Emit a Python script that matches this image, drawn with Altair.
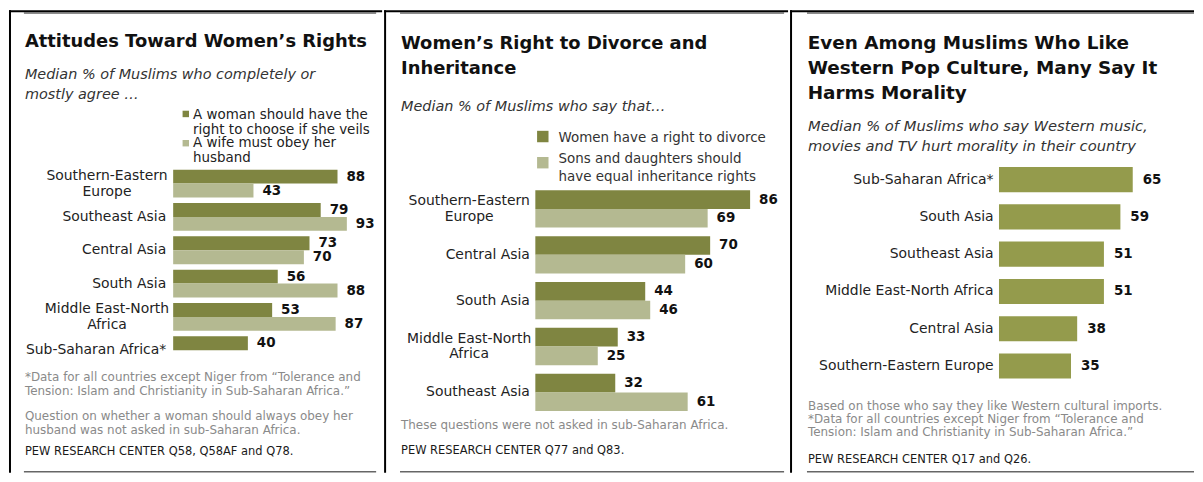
import json
import altair as alt
import pandas as pd

FONT = "DejaVu Sans"

# ---------------- data ----------------
p1_title = ["Attitudes Toward Women’s Rights"]
p1_subtitle = ["Median % of Muslims who completely or", "mostly agree …"]
p1_regions = ["Southern-Eastern Europe", "Southeast Asia", "Central Asia",
              "South Asia", "Middle East-North Africa", "Sub-Saharan Africa*"]
p1_series = ["A woman should have the right to choose if she veils",
             "A wife must obey her husband"]
p1_veil = [88, 79, 73, 56, 53, 40]
p1_obey = [43, 93, 70, 88, 87, None]
p1_note_a = ["*Data for all countries except Niger from “Tolerance and",
             "Tension: Islam and Christianity in Sub-Saharan Africa.”"]
p1_note_b = ["Question on whether a woman should always obey her",
             "husband was not asked in sub-Saharan Africa."]
p1_source = "PEW RESEARCH  CENTER Q58, Q58AF and Q78."

p2_title = ["Women’s Right to Divorce and", "Inheritance"]
p2_subtitle = ["Median % of Muslims who say that…"]
p2_regions = ["Southern-Eastern Europe", "Central Asia", "South Asia",
              "Middle East-North Africa", "Southeast Asia"]
p2_series = ["Women have a right to divorce",
             "Sons and daughters should have equal inheritance rights"]
p2_divorce = [86, 70, 44, 33, 32]
p2_inherit = [69, 60, 46, 25, 61]
p2_note = ["These questions were not asked in sub-Saharan Africa."]
p2_source = "PEW RESEARCH  CENTER Q77 and Q83."

p3_title = ["Even Among Muslims Who Like", "Western Pop Culture, Many Say It",
            "Harms Morality"]
p3_subtitle = ["Median % of Muslims who say Western music,",
               "movies and TV hurt morality in their country"]
p3_regions = ["Sub-Saharan Africa*", "South Asia", "Southeast Asia",
              "Middle East-North Africa", "Central Asia", "Southern-Eastern Europe"]
p3_values = [65, 59, 51, 51, 38, 35]
p3_note = ["Based on those who say they like Western cultural imports.",
           "*Data for all countries except Niger from “Tolerance and",
           "Tension: Islam and Christianity in Sub-Saharan Africa.”"]
p3_source = "PEW RESEARCH  CENTER Q17 and Q26."

DARK = "#7f8541"
LIGHT = "#b4b991"
SINGLE = "#949b4c"

H = 466
NOTE = 12
NOTE_C = "#8a8a8a"
SRC = 11.5
LAB = 14

# line wrapping of labels (presentation only)
legend_wrap = {
    p1_series[0]: ["A woman should have the", "right to choose if she veils"],
    p1_series[1]: ["A wife must obey her", "husband"],
    p2_series[0]: ["Women have a right to divorce"],
    p2_series[1]: ["Sons and daughters should", "have equal inheritance rights"],
}
label_wrap = {
    "Southern-Eastern Europe": ["Southern-Eastern", "Europe"],
    "Middle East-North Africa": ["Middle East-North", "Africa"],
}


def label_expr(wrap):
    expr = "datum.value"
    for k, v in wrap.items():
        expr = f"datum.value == {json.dumps(k)} ? {json.dumps(v)} : ({expr})"
    return expr


def wrapped_test(wrap):
    return " || ".join(f"datum.value == {json.dumps(k)}" for k in wrap)


def blank():
    return alt.Chart(alt.Data(values=[{}]))


def rule(x1, x2, y1, y2, color, width):
    return blank().mark_rule(color=color, strokeWidth=width).encode(
        x=alt.value(x1), x2=alt.value(x2), y=alt.value(y1), y2=alt.value(y2))


def txt(lines, x, y, size, color, weight="normal", style="normal", lh=None):
    kw = dict(align="left", baseline="alphabetic", fontSize=size, font=FONT,
              color=color, fontWeight=weight, fontStyle=style)
    if lh is not None:
        kw["lineHeight"] = lh
    return blank().mark_text(**kw).encode(x=alt.value(x), y=alt.value(y),
                                          text=alt.value(lines))


def frame(W, gx1, gx2):
    return [
        rule(0, W, 2, 2, "#000", 2),
        rule(1, 1, 1, H, "#000", 2),
        rule(gx1, gx2, 3.75, 3.75, "#666", 1.5),
        rule(gx1, gx2, 465, 465, "#666", 1.5),
    ]


def grouped_panel(regions, series, vals_a, vals_b, colors, xs, k, y0, step, pi, pad):
    rows = []
    for r, a, b in zip(regions, vals_a, vals_b):
        if a is not None:
            rows.append({"region": r, "series": series[0], "value": a})
        if b is not None:
            rows.append({"region": r, "series": series[1], "value": b})
    df = pd.DataFrame(rows)
    n = len(regions)
    y1 = y0 + step * (n - pi)
    test = wrapped_test(label_wrap)
    base = alt.Chart(df)
    x = alt.X("value:Q", scale=alt.Scale(domain=[0, 100], range=[xs, xs + 100 * k]),
              axis=None)
    y = alt.Y("region:N", sort=regions,
              scale=alt.Scale(range=[y0, y1], paddingInner=pi, paddingOuter=0),
              axis=alt.Axis(
                  title=None, orient="left", offset=-xs, ticks=False, domain=False,
                  labelFontSize=LAB, labelFont=FONT, labelColor="#222",
                  labelLineHeight=16, labelLimit=400,
                  labelExpr=label_expr(label_wrap),
                  labelAlign={"condition": {"test": test, "value": "center"},
                              "value": "right"},
                  labelPadding={"condition": {"test": test, "value": 67},
                                "value": pad},
                  labelOffset={"condition": {"test": test, "value": -8},
                               "value": 0}))
    yo = alt.YOffset("series:N", sort=series,
                     scale=alt.Scale(paddingInner=0, paddingOuter=0))
    color = alt.Color("series:N", scale=alt.Scale(domain=series, range=colors),
                      legend=None)
    bars = base.mark_bar().encode(x=x, y=y, yOffset=yo, color=color)
    labels = base.mark_text(align="left", baseline="middle", dx=9, fontSize=13.5,
                            font=FONT, fontWeight="bold", color="#111").encode(
        x=x, y=y, yOffset=yo, text="value:Q")
    return [bars, labels]


# ---------------- panel 1 ----------------
W1 = 375
p1_layers = frame(W1, 15, 369)
p1_layers += grouped_panel(p1_regions, p1_series, p1_veil, p1_obey, [DARK, LIGHT],
                           165, 1.877, 161.3, 33.5, 0.164, 7.5)
p1_layers += [
    txt(p1_title, 16, 38, 18, "#111", weight="bold"),
    txt(p1_subtitle, 16, 70, 14.5, "#333", style="italic", lh=20),
    blank().mark_square(size=42, opacity=1, color=DARK).encode(
        x=alt.value(177.7), y=alt.value(105.3)),
    blank().mark_square(size=42, opacity=1, color=LIGHT).encode(
        x=alt.value(177.7), y=alt.value(134.7)),
    txt(legend_wrap[p1_series[0]], 185, 110, 13.5, "#222", lh=15),
    txt(legend_wrap[p1_series[1]], 185, 138.7, 13.5, "#222", lh=15),
    txt(p1_note_a, 16, 373.7, NOTE, NOTE_C, lh=14),
    txt(p1_note_b, 16, 413, NOTE, NOTE_C, lh=13.5),
    txt(p1_source, 16, 448, SRC, "#1a1a1a"),
]
panel1 = alt.layer(*p1_layers).properties(width=W1, height=H)

# ---------------- panel 2 ----------------
W2 = 406
p2_layers = frame(W2, 16, 402)
p2_layers += grouped_panel(p2_regions, p2_series, p2_divorce, p2_inherit,
                           [DARK, LIGHT], 152, 2.51, 182, 46.1, 0.187, 6)
p2_layers += [
    txt(p2_title, 17, 40, 18, "#111", weight="bold", lh=25),
    txt(p2_subtitle, 17, 102.5, 14.5, "#333", style="italic", lh=20),
    blank().mark_square(size=132, opacity=1, color=DARK).encode(
        x=alt.value(159.5), y=alt.value(128)),
    blank().mark_square(size=132, opacity=1, color=LIGHT).encode(
        x=alt.value(159.5), y=alt.value(154.3)),
    txt(legend_wrap[p2_series[0]], 175.3, 133.6, 13.5, "#333", lh=18.5),
    txt(legend_wrap[p2_series[1]], 175.3, 154.6, 13.5, "#333", lh=18.5),
    txt(p2_note, 17, 422, NOTE, NOTE_C, lh=13.3),
    txt(p2_source, 17, 447, SRC, "#1a1a1a"),
]
panel2 = alt.layer(*p2_layers).properties(width=W2, height=H)

# ---------------- panel 3 ----------------
W3 = 406
df3 = pd.DataFrame({"region": p3_regions, "value": p3_values})
n3 = len(p3_regions)
pi3, step3, y03, xs3, k3 = 0.325, 37.46, 158.7, 210, 2.068
x3 = alt.X("value:Q", scale=alt.Scale(domain=[0, 100], range=[xs3, xs3 + 100 * k3]),
           axis=None)
y3 = alt.Y("region:N", sort=p3_regions,
           scale=alt.Scale(range=[y03, y03 + step3 * (n3 - pi3)], paddingInner=pi3,
                           paddingOuter=0),
           axis=alt.Axis(title=None, orient="left", offset=-xs3, labelPadding=6,
                         ticks=False, domain=False, labelFontSize=LAB,
                         labelFont=FONT, labelColor="#222", labelLimit=400))
bars3 = alt.Chart(df3).mark_bar(color=SINGLE).encode(x=x3, y=y3)
labels3 = alt.Chart(df3).mark_text(align="left", baseline="middle", dx=10,
                                   fontSize=13.5, font=FONT, fontWeight="bold",
                                   color="#111").encode(x=x3, y=y3, text="value:Q")
p3_layers = frame(W3, 17, W3) + [bars3, labels3] + [
    txt(p3_title, 17.7, 40, 18.5, "#111", weight="bold", lh=25),
    txt(p3_subtitle, 18, 122.6, 14.8, "#333", style="italic", lh=20),
    txt(p3_note, 18, 402.7, NOTE, NOTE_C, lh=13.3),
    txt(p3_source, 18, 456, SRC, "#1a1a1a"),
]
panel3 = alt.layer(*p3_layers).properties(width=W3, height=H)

chart = (
    alt.hconcat(panel1, panel2, panel3, spacing=0)
    .resolve_scale(color="independent", yOffset="independent")
    .properties(padding=0, background="white")
    .configure_view(stroke=None)
)

chart.save("out.html", embed_options={"renderer": "svg", "actions": False})
